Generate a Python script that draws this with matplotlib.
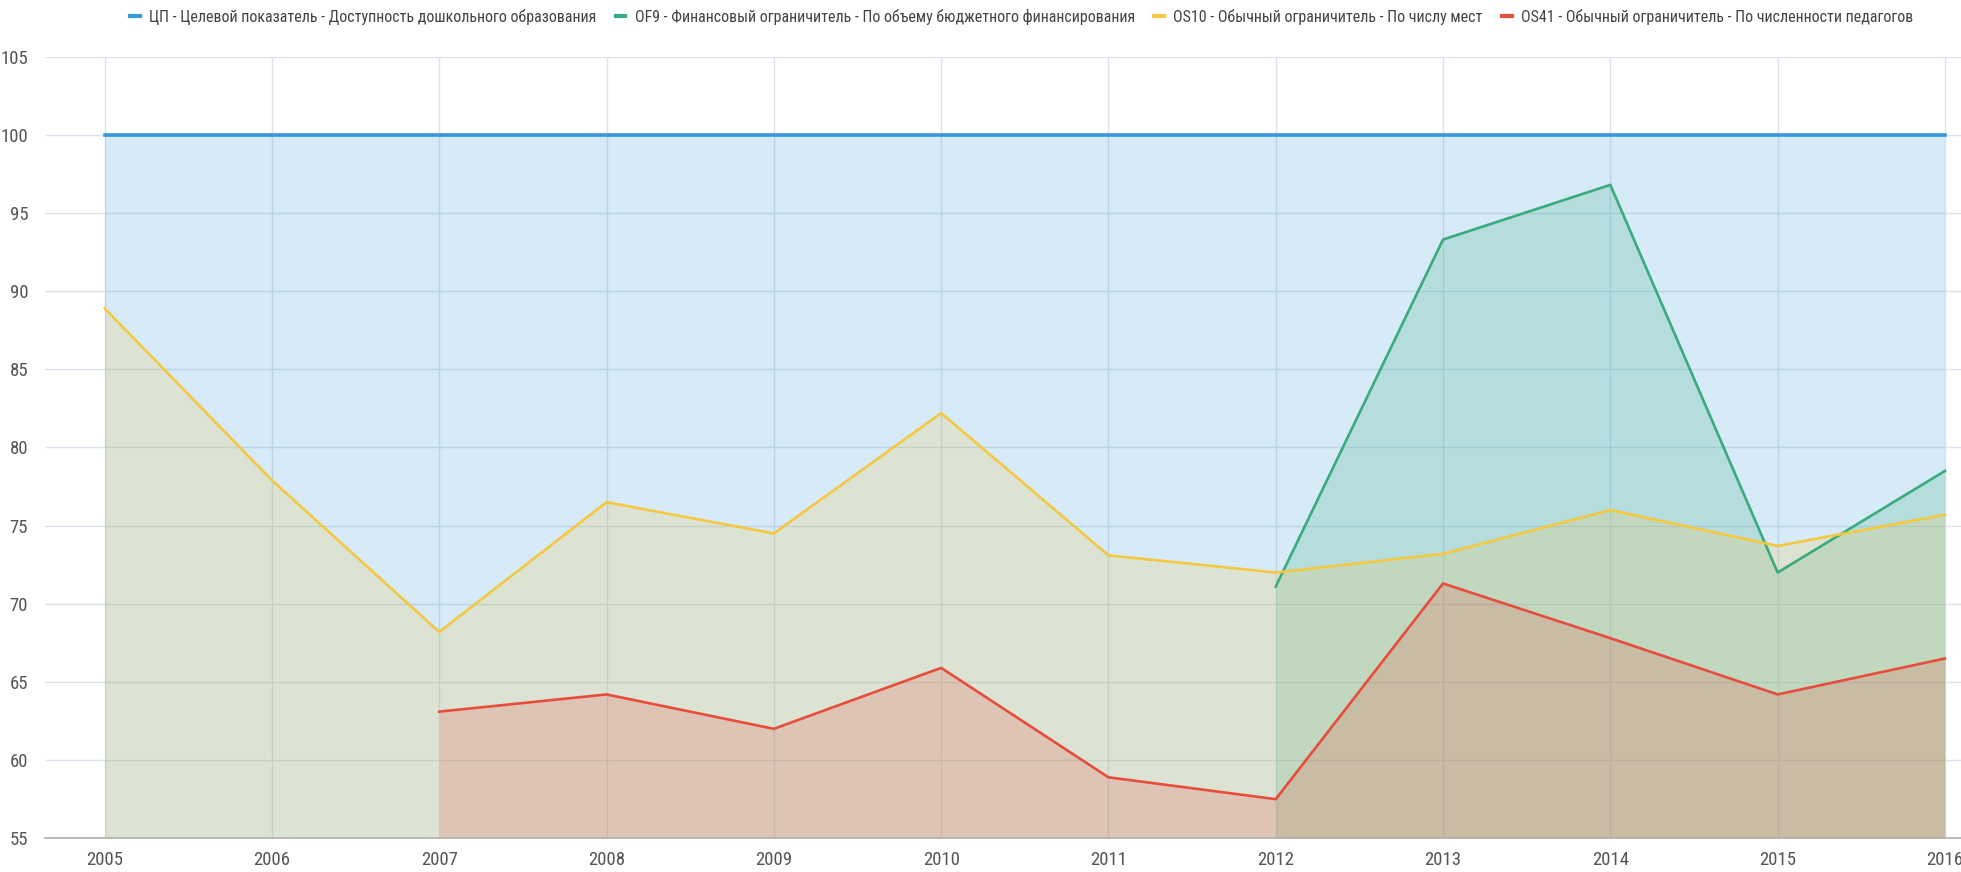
import matplotlib
matplotlib.use("Agg")
import matplotlib.pyplot as plt
from matplotlib import font_manager
import numpy as np

years = [2005, 2006, 2007, 2008, 2009, 2010, 2011, 2012, 2013, 2014, 2015, 2016]

target = [100, 100, 100, 100, 100, 100, 100, 100, 100, 100, 100, 100]
of9 = [None, None, None, None, None, None, None, 71.1, 93.3, 96.8, 72.0, 78.5]
os10 = [88.9, 77.9, 68.2, 76.5, 74.5, 82.2, 73.1, 72.0, 73.2, 76.0, 73.7, 75.7]
os41 = [None, None, 63.1, 64.2, 62.0, 65.9, 58.9, 57.5, 71.3, 67.8, 64.2, 66.5]

labels = [
    "ЦП - Целевой показатель - Доступность дошкольного образования",
    "OF9 - Финансовый ограничитель - По объему бюджетного финансирования",
    "OS10 - Обычный ограничитель - По числу мест",
    "OS41 - Обычный ограничитель - По численности педагогов",
]
colors = ["#3498db", "#3aab7d", "#f5c842", "#e74c3c"]
y_min, y_max = 55, 105

# look for a narrow face (the original uses a condensed sans)
narrow_path = None
for f in font_manager.fontManager.ttflist:
    if f.style != "normal" or f.weight not in (400, "normal", "regular"):
        continue
    if "Narrow" in f.name or "Condensed" in f.name or f.stretch in ("condensed", "semi-condensed"):
        narrow_path = f.fname
        if "Liberation" in f.name or "Roboto" in f.name:
            break

plt.rcParams['font.family'] = ['Liberation Sans', 'DejaVu Sans']


def font(size):
    if narrow_path:
        return font_manager.FontProperties(fname=narrow_path, size=size)
    return font_manager.FontProperties(family=['Liberation Sans', 'DejaVu Sans'], size=size)


fig = plt.figure(figsize=(19.61, 8.72), dpi=100)
ax = fig.add_axes([0.0229, 0.0387, 0.9771, 0.8963])

series = [target, of9, os10, os41]
for vals, color, label in zip(series, colors, labels):
    y = np.array([np.nan if v is None else v for v in vals], dtype=float)
    x = np.array(years, dtype=float)
    ok = ~np.isnan(y)
    ax.fill_between(x[ok], y[ok], y_min, color=color, alpha=0.2, linewidth=0, zorder=2)
    lw = 2.6 if vals is target else 1.9
    ax.plot(x[ok], y[ok], color=color, linewidth=lw, label=label, zorder=4)

ax.set_xlim(2004.643, 2016.096)
ax.set_ylim(y_min, y_max)
ax.set_xticks(years)
ax.set_yticks(range(55, 106, 5))
ax.grid(True, color="#dde3ec", linewidth=1, zorder=1)
ax.set_axisbelow(True)

for side in ["top", "right", "left"]:
    ax.spines[side].set_visible(False)
ax.spines["bottom"].set_color("#b0b0a8")
ax.spines["bottom"].set_linewidth(1.2)
ax.tick_params(axis="both", length=0, labelcolor="#555555")
ax.tick_params(axis="x", pad=9)
ax.tick_params(axis="y", pad=12)
for t in ax.get_xticklabels() + ax.get_yticklabels():
    t.set_fontproperties(font(13.5 if narrow_path else 12.5))


def make_legend(size):
    leg = fig.legend(loc="center", bbox_to_anchor=(0.521, 0.981), ncol=4, frameon=False,
                     prop=font(size), handlelength=0.6, handletextpad=0.6, columnspacing=1.2)
    for h in leg.legend_handles:
        h.set_linewidth(3)
    for t in leg.get_texts():
        t.set_color("#444444")
    return leg


size = 13.5
leg = make_legend(size)
fig.canvas.draw()
width = leg.get_window_extent().width
target_width = 1802
if width > target_width * 1.01:
    leg.remove()
    size = size * target_width / width
    leg = make_legend(size)

fig.savefig("out.png", dpi=100)
